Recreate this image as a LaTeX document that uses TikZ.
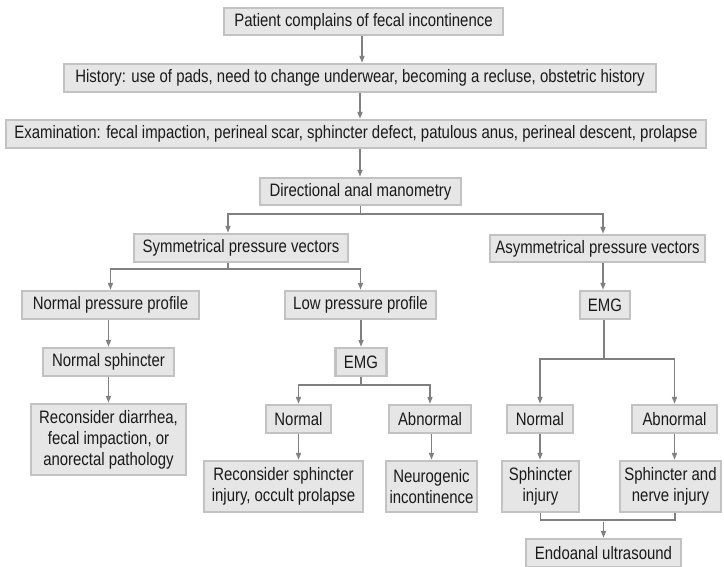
\documentclass[tikz,border=0pt]{standalone}
\usepackage{fontspec}
\setmainfont{Liberation Sans}[FakeStretch=0.83]
\usetikzlibrary{arrows.meta}
\definecolor{boxfill}{HTML}{E6E6E6}
\definecolor{boxedge}{HTML}{C2C2C2}
\definecolor{conn}{HTML}{808080}
\definecolor{txt}{HTML}{1A1A1A}
\begin{document}
\begin{tikzpicture}[x=1pt,y=-1pt,
  bx/.style={draw=boxedge, fill=boxfill, line width=2.4pt, inner sep=0pt,
    text=txt, align=center, font=\fontsize{18}{21}\selectfont},
  ln/.style={draw=conn, line width=1.6pt},
  arr/.style={ln, -{Triangle[length=7pt,width=5pt]}}]
\useasboundingbox (0,0) rectangle (724,567);
\fill[white] (0,0) rectangle (724,567);
% row nodes
\node[bx, minimum width=279pt, minimum height=27pt] (pc) at (363.5,21.5) {Patient complains of fecal incontinence};
\node[bx, minimum width=592pt, minimum height=28pt] (hi) at (360,78) {History: use of pads, need to change underwear, becoming a recluse, obstetric history};
\node[bx, minimum width=700pt, minimum height=28pt] (ex) at (356,134) {Examination: fecal impaction, perineal scar, sphincter defect, patulous anus, perineal descent, prolapse};
\node[bx, minimum width=201pt, minimum height=27pt] (dam) at (360.5,191.5) {Directional anal manometry};
\node[bx, minimum width=214pt, minimum height=28pt] (sym) at (241,248) {Symmetrical pressure vectors};
\node[bx, minimum width=215pt, minimum height=27pt] (asym) at (597.5,248.5) {Asymmetrical pressure vectors};
\node[bx, minimum width=177pt, minimum height=28pt] (npp) at (110.5,305) {Normal pressure profile};
\node[bx, minimum width=151pt, minimum height=28pt] (lpp) at (360.5,305) {Low pressure profile};
\node[bx, minimum width=50pt, minimum height=28pt] (emga) at (605,305) {EMG};
\node[bx, minimum width=131pt, minimum height=28pt] (ns) at (108.5,362) {Normal sphincter};
\node[bx, minimum width=51pt, minimum height=28pt] (emgl) at (361,362) {EMG};
\node[bx, minimum width=155pt, minimum height=71pt] (rd) at (108.5,439.5) {Reconsider diarrhea,\\fecal impaction, or\\anorectal pathology};
\node[bx, minimum width=65pt, minimum height=28pt] (nl) at (298.5,419) {Normal};
\node[bx, minimum width=82pt, minimum height=28pt] (al) at (430,419) {Abnormal};
\node[bx, minimum width=66pt, minimum height=28pt] (nr) at (540,419) {Normal};
\node[bx, minimum width=85pt, minimum height=28pt] (ar) at (674.5,419) {Abnormal};
\node[bx, minimum width=159pt, minimum height=51pt] (rs) at (283.5,486.5) {Reconsider sphincter\\injury, occult prolapse};
\node[bx, minimum width=91pt, minimum height=51pt] (ni) at (431.5,486.5) {Neurogenic\\incontinence};
\node[bx, minimum width=77pt, minimum height=51pt] (si) at (540.5,486.5) {Sphincter\\injury};
\node[bx, minimum width=101pt, minimum height=51pt] (sni) at (670.5,486.5) {Sphincter and\\nerve injury};
\node[bx, minimum width=155pt, minimum height=28pt] (eu) at (603.5,553) {Endoanal ultrasound};
% connector anchor points
\coordinate (pcs) at ([xshift=-1.5pt]pc.south);
\coordinate (exs) at ([xshift=4pt]ex.south);
\coordinate (syms) at ([xshift=-13pt]sym.south);
\coordinate (symn) at ([xshift=-13pt]sym.north);
\coordinate (asymn) at ([xshift=5.5pt]asym.north);
\coordinate (asyms) at ([xshift=5.5pt]asym.south);
\coordinate (emgas) at ([xshift=-1pt]emga.south);
\coordinate (snis) at ([xshift=4.5pt]sni.south);
% connectors
\draw[arr] (pcs) -- (pcs |- hi.north);
\draw[arr] (hi.south) -- (hi.south |- ex.north);
\draw[arr] (exs) -- (exs |- dam.north);
\draw[arr] (dam.south) -- ++(0,8) -| (symn);
\draw[arr] (dam.south) ++(0,8) -| (asymn);
\draw[arr] (syms) -- ++(0,6) -| (npp.north);
\draw[arr] (syms) ++(0,6) -| (lpp.north);
\draw[arr] (asyms) -- (asyms |- emga.north);
\draw[arr] (npp.south -| ns.north) -- (ns.north);
\draw[arr] (ns.south) -- (rd.north);
\draw[arr] (lpp.south -| emgl.north) -- (emgl.north);
\draw[arr] (emgl.south) -- ++(0,8) -| (nl.north);
\draw[arr] (emgl.south) ++(0,8) -| (al.north);
\draw[arr] (emgas) -- ++(0,39) -| (nr.north);
\draw[arr] (emgas) ++(0,39) -| (ar.north);
\draw[arr] (nl.south) -- (nl.south |- rs.north);
\draw[arr] (al.south -| ni.north) -- (ni.north);
\draw[arr] (nr.south) -- (nr.south |- si.north);
\draw[arr] (ar.south) -- (ar.south |- sni.north);
\draw[ln] (si.south) -- ++(0,7) -| (snis);
\draw[arr] (eu.north) ++(0,-16) -- (eu.north);
\end{tikzpicture}
\end{document}
